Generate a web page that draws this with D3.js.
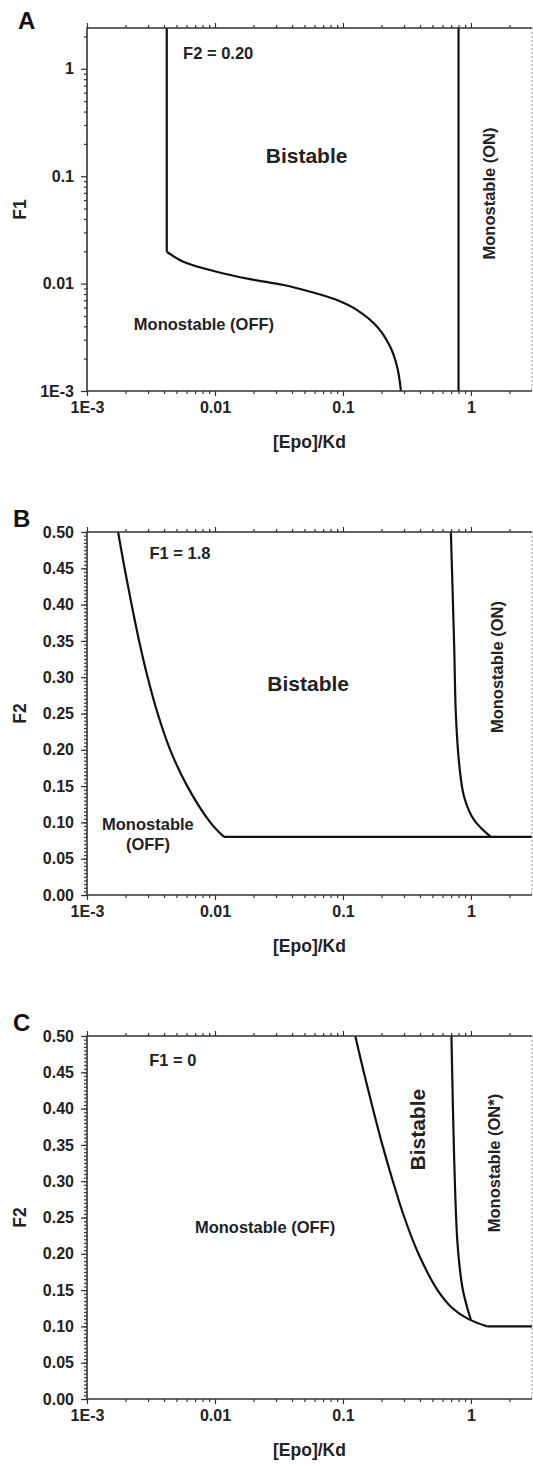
<!DOCTYPE html>
<html lang="en">
<head>
<meta charset="UTF-8">
<title>Epo bistability diagrams</title>
<script src="https://d3js.org/d3.v7.min.js"></script>
<style>
  body { margin: 0; background: #fff; }
  svg { display: block; font-family: Arial, "Liberation Sans", sans-serif; font-weight: bold; }
  .tick text { font-size: 16px; fill: #222; font-weight: bold; }
  .tick line { stroke: #333; stroke-width: 1.2; }
</style>
</head>
<body>
<div id="chart"></div>
<script>
// shared x axis ([Epo]/Kd, log)
const epoTicks = [0.001, 0.01, 0.1, 1];
const epoTickLabels = ["1E-3", "0.01", "0.1", "1"];

// panel A (F2 = 0.20), y = F1 on a log axis
const f1Ticks = [0.001, 0.01, 0.1, 1];
const f1TickLabels = ["1E-3", "0.01", "0.1", "1"];
const aOffVertEpo = [0.0042, 0.0042];
const aOffVertF1 = [2.4, 0.0198];
const aOffEpo = [0.0042, 0.00565, 0.0103, 0.0188, 0.0343, 0.0555, 0.0897, 0.129, 0.185, 0.234, 0.265, 0.284];
const aOffF1 = [0.0198, 0.0160, 0.0129, 0.0110, 0.00971, 0.00841, 0.00703, 0.00567, 0.00397, 0.00258, 0.00168, 0.001];
const aOnEpo = [0.80, 0.80];
const aOnF1 = [2.4, 0.001];

// panels B and C, y = F2 on a linear axis
const f2Ticks = [0, 0.05, 0.1, 0.15, 0.2, 0.25, 0.3, 0.35, 0.4, 0.45, 0.5];
const f2TickLabels = ["0.00", "0.05", "0.10", "0.15", "0.20", "0.25", "0.30", "0.35", "0.40", "0.45", "0.50"];

// panel B (F1 = 1.8)
const bOffEpo = [0.00175, 0.001966, 0.002232, 0.002554, 0.002977, 0.003566, 0.004467, 0.006069, 0.00919, 0.01175];
const bOffF2 = [0.5, 0.45, 0.40, 0.35, 0.30, 0.25, 0.20, 0.15, 0.10, 0.08];
const bFloorEpo = [0.01175, 3];
const bFloorF2 = [0.08, 0.08];
const bOnEpo = [0.697, 0.740, 0.762, 0.809, 0.885, 1.06, 1.43];
const bOnF2 = [0.5, 0.342, 0.250, 0.181, 0.135, 0.103, 0.080];

// panel C (F1 = 0)
const cOffEpo = [0.1248, 0.1455, 0.1712, 0.2032, 0.2455, 0.302, 0.389, 0.548, 0.718, 0.958, 1.342];
const cOffF2 = [0.5, 0.45, 0.40, 0.35, 0.30, 0.25, 0.20, 0.15, 0.125, 0.11, 0.10];
const cFloorEpo = [1.342, 3];
const cFloorF2 = [0.10, 0.10];
const cOnEpo = [0.704, 0.740, 0.785, 0.855, 0.931, 1.0];
const cOnF2 = [0.5, 0.330, 0.215, 0.155, 0.127, 0.109];

const width = 533, height = 1465;
const left = 87, right = 532;

const svg = d3.select("#chart").append("svg")
    .attr("width", width)
    .attr("height", height);

const x = d3.scaleLog().domain([0.001, 3]).range([left, right]);

function logMinor(domain) {
    const out = [];
    for (let d = 1e-4; d < 10; d *= 10) {
        for (let k = 2; k <= 9; k++) {
            const v = d * k;
            if (v > domain[0] && v < domain[1]) out.push(v);
        }
    }
    return out;
}

const zip = (xs, ys) => xs.map((v, i) => [v, ys[i]]);

function drawPanel(p) {
    const g = svg.append("g");
    const y = p.y;
    const top = y.range()[1], bottom = y.range()[0];

    // curves
    const line = d3.line().x(d => x(d[0])).y(d => y(d[1]));
    p.series.forEach(s => {
        g.append("path")
            .datum(zip(s[0], s[1]))
            .attr("fill", "none")
            .attr("stroke", "#111")
            .attr("stroke-width", 2.2)
            .attr("stroke-linejoin", "round")
            .attr("d", line.curve(s[0].length > 2 ? d3.curveCatmullRom.alpha(0.5) : d3.curveLinear));
    });

    // bottom axis
    const xMinor = logMinor(x.domain());
    g.append("g").attr("transform", `translate(0,${bottom})`)
        .call(d3.axisBottom(x).tickValues(xMinor).tickSize(3).tickFormat(""))
        .call(a => a.select(".domain").remove());
    g.append("g").attr("transform", `translate(0,${bottom})`)
        .call(d3.axisBottom(x).tickValues(epoTicks).tickSize(5).tickPadding(6)
            .tickFormat((d, i) => epoTickLabels[i]))
        .call(a => a.select(".domain").remove());
    // top axis, ticks only
    g.append("g").attr("transform", `translate(0,${top})`)
        .call(d3.axisTop(x).tickValues(xMinor).tickSize(3).tickFormat(""))
        .call(a => a.select(".domain").remove());
    g.append("g").attr("transform", `translate(0,${top})`)
        .call(d3.axisTop(x).tickValues(epoTicks).tickSize(5).tickFormat(""))
        .call(a => a.select(".domain").remove());

    // left axis
    g.append("g").attr("transform", `translate(${left},0)`)
        .call(d3.axisLeft(y).tickValues(p.yMinor).tickSize(3).tickFormat(""))
        .call(a => a.select(".domain").remove());
    g.append("g").attr("transform", `translate(${left},0)`)
        .call(d3.axisLeft(y).tickValues(p.yTicks).tickSize(6).tickPadding(7)
            .tickFormat((d, i) => p.yLabels[i]))
        .call(a => a.select(".domain").remove());

    // frame
    g.append("path")
        .attr("d", `M${right},${top}H${left}V${bottom}H${right}`)
        .attr("fill", "none").attr("stroke", "#333").attr("stroke-width", 1.6);
    g.append("line")
        .attr("x1", right).attr("x2", right).attr("y1", top).attr("y2", bottom)
        .attr("stroke", "#999").attr("stroke-width", 1).attr("stroke-dasharray", "2,2");

    // axis titles
    g.append("text")
        .attr("x", (left + right) / 2).attr("y", bottom + 52)
        .attr("text-anchor", "middle").attr("dominant-baseline", "middle")
        .attr("font-size", 17.5).attr("fill", "#222")
        .text("[Epo]/Kd");
    g.append("text")
        .attr("transform", `translate(21,${(top + bottom) / 2}) rotate(-90)`)
        .attr("text-anchor", "middle").attr("dominant-baseline", "middle")
        .attr("font-size", 17.5).attr("fill", "#222")
        .text(p.yTitle);

    // panel letter
    g.append("text")
        .attr("x", p.letterPos[0]).attr("y", p.letterPos[1])
        .attr("font-size", 24).attr("fill", "#111")
        .text(p.letter);

    // region labels
    p.notes.forEach(n => {
        const t = g.append("text")
            .attr("transform", `translate(${x(n.at[0])},${y(n.at[1])})` + (n.rotate ? " rotate(-90)" : ""))
            .attr("text-anchor", "middle")
            .attr("font-size", n.size || 16.5)
            .attr("fill", "#222");
        n.text.forEach((s, i) => {
            t.append("tspan")
                .attr("x", 0)
                .attr("dy", i === 0 ? `${0.35 - (n.text.length - 1) * 0.6}em` : "1.2em")
                .text(s);
        });
    });
}

const yA = d3.scaleLog().domain([0.001, 2.4]).range([391, 28]);
drawPanel({
    letter: "A", letterPos: [18, 29], y: yA, yTitle: "F1",
    yTicks: f1Ticks, yLabels: f1TickLabels, yMinor: logMinor(yA.domain()),
    series: [[aOffVertEpo, aOffVertF1], [aOffEpo, aOffF1], [aOnEpo, aOnF1]],
    notes: [
        { text: ["F2 = 0.20"], at: [0.0106, 1.40] },
        { text: ["Bistable"], at: [0.052, 0.157], size: 21 },
        { text: ["Monostable (OFF)"], at: [0.0082, 0.0042] },
        { text: ["Monostable (ON)"], at: [1.38, 0.069], rotate: true }
    ]
});

const f2Minor = d3.range(0, 101).map(i => i * 0.005);

const yB = d3.scaleLinear().domain([0, 0.5]).range([895, 532]);
drawPanel({
    letter: "B", letterPos: [13, 527], y: yB, yTitle: "F2",
    yTicks: f2Ticks, yLabels: f2TickLabels, yMinor: f2Minor,
    series: [[bOffEpo, bOffF2], [bFloorEpo, bFloorF2], [bOnEpo, bOnF2]],
    notes: [
        { text: ["F1 = 1.8"], at: [0.00532, 0.471] },
        { text: ["Bistable"], at: [0.0535, 0.291], size: 21 },
        { text: ["Monostable", "(OFF)"], at: [0.00299, 0.084] },
        { text: ["Monostable (ON)"], at: [1.61, 0.314], rotate: true }
    ]
});

const yC = d3.scaleLinear().domain([0, 0.5]).range([1399, 1036]);
drawPanel({
    letter: "C", letterPos: [13, 1031], y: yC, yTitle: "F2",
    yTicks: f2Ticks, yLabels: f2TickLabels, yMinor: f2Minor,
    series: [[cOffEpo, cOffF2], [cFloorEpo, cFloorF2], [cOnEpo, cOnF2]],
    notes: [
        { text: ["F1 = 0"], at: [0.00469, 0.467] },
        { text: ["Monostable (OFF)"], at: [0.0246, 0.237] },
        { text: ["Bistable"], at: [0.381, 0.371], size: 21, rotate: true },
        { text: ["Monostable (ON*)"], at: [1.51, 0.325], rotate: true }
    ]
});
</script>
</body>
</html>
